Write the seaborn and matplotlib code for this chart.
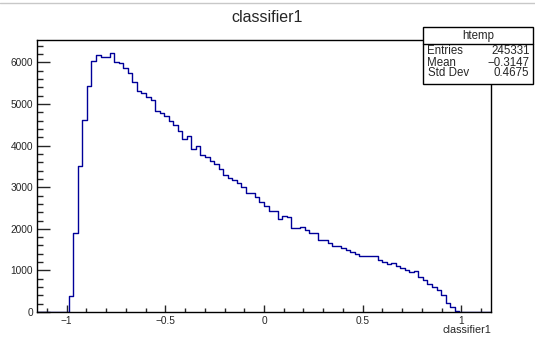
import numpy as np
import pandas as pd
import matplotlib
matplotlib.use("Agg")
import matplotlib.pyplot as plt
import seaborn as sns
from matplotlib.patches import Rectangle
from matplotlib.lines import Line2D

# ---------------- data ----------------
title = "classifier1"
x_label = "classifier1"
hist_name = "htemp"
x_range = [-1.15, 1.15]
n_bins = 100
leading_zero_bins = 7
# bin contents of the non-empty bins (bin 7 .. bin 92)
bin_counts = [
    380, 1900, 3520, 4615, 5435, 6025, 6185, 6125, 6120, 6230,
    6005, 5985, 5860, 5740, 5530, 5305, 5265, 5160, 5100, 4830,
    4775, 4720, 4600, 4500, 4340, 4155, 4220, 3925, 4000, 3785,
    3720, 3635, 3550, 3445, 3295, 3230, 3175, 3110, 2995, 2855,
    2855, 2770, 2640, 2540, 2440, 2430, 2235, 2300, 2280, 2015,
    2015, 2045, 1970, 1910, 1910, 1720, 1720, 1670, 1590, 1590,
    1545, 1500, 1450, 1400, 1345, 1338, 1338, 1338, 1262, 1205,
    1155, 1185, 1095, 1055, 1015, 950, 990, 840, 775, 680,
    595, 520, 415, 225, 110, 25,
]
stats_labels = ["Entries", "Mean", "Std Dev"]
stats_values = ["245331", "\u22120.3147", "0.4675"]
x_major_ticks = [-1, -0.5, 0, 0.5, 1]
x_tick_labels = ["\u22121", "\u22120.5", "0", "0.5", "1"]
y_major_ticks = [0, 1000, 2000, 3000, 4000, 5000, 6000]

# ---------------- build table ----------------
edges = np.linspace(x_range[0], x_range[1], n_bins + 1)
centers = 0.5 * (edges[:-1] + edges[1:])
counts = [0] * leading_zero_bins + bin_counts
counts = counts + [0] * (n_bins - len(counts))
df = pd.DataFrame({"classifier1": centers, "count": counts})

# ---------------- style ----------------
sns.set_style("ticks")
plt.rcParams["font.family"] = ["Liberation Sans", "DejaVu Sans"]
plt.rcParams["axes.linewidth"] = 1.0

W, H = 535, 338
fig = plt.figure(figsize=(W / 100, H / 100), dpi=100)
fig.patch.set_facecolor("white")
ax_l, ax_r, ax_t, ax_b = 37, 491, 40, 312
ax = fig.add_axes([ax_l / W, 1 - ax_b / H, (ax_r - ax_l) / W, (ax_b - ax_t) / H])

sns.histplot(data=df, x="classifier1", weights="count", bins=n_bins,
             binrange=tuple(x_range), element="step", fill=False,
             color="#000099", linewidth=1.0, ax=ax)

ax.set_xlim(x_range[0], x_range[1])
ax.set_ylim(0, 6540)
for s in ax.spines.values():
    s.set_visible(True)
    s.set_color("black")
    s.set_linewidth(1.0)

ax.set_xticks(x_major_ticks)
ax.set_xticklabels(x_tick_labels)
ax.set_xticks(np.round(np.arange(-1.1, 1.11, 0.1), 2), minor=True)
ax.set_yticks(y_major_ticks)
ax.set_yticks(np.arange(0, 6501, 200), minor=True)

ax.tick_params(axis="x", which="major", direction="in", length=5, width=1,
               labelsize=7.3, pad=3, top=False)
ax.tick_params(axis="x", which="minor", direction="in", length=2.8, width=1, top=False)
ax.tick_params(axis="y", which="major", direction="in", length=9, width=1,
               labelsize=7.3, pad=3, right=False)
ax.tick_params(axis="y", which="minor", direction="in", length=4.5, width=1, right=False)

ax.set_ylabel("")
ax.set_xlabel(x_label, fontsize=7.8, loc="right")
ax.xaxis.label.set_va("center")
ax.xaxis.set_label_coords(1.0, -(330 - ax_b) / (ax_b - ax_t))

# title
fig.text(0.5, 1 - 17 / H, title, ha="center", va="center", fontsize=11.5)

# stats box
bx0, bx1, by0, by1, bsep = 423, 533, 27, 84, 43.5
fig.add_artist(Rectangle((bx0 / W, 1 - by1 / H), (bx1 - bx0) / W, (by1 - by0) / H,
                         transform=fig.transFigure, facecolor="white",
                         edgecolor="black", linewidth=1.0, zorder=5))
fig.add_artist(Line2D([bx0 / W, bx1 / W], [1 - bsep / H, 1 - bsep / H],
                      transform=fig.transFigure, color="black", linewidth=1.0, zorder=6))
fig.text((bx0 + bx1) / 2 / W, 1 - 35.5 / H, hist_name, ha="center", va="center",
         fontsize=8.3, zorder=7)
row_y = [51, 62.5, 73.5]
for lab, val, yy in zip(stats_labels, stats_values, row_y):
    fig.text(427.5 / W, 1 - yy / H, lab, ha="left", va="center", fontsize=8.3, zorder=7)
    fig.text(529.5 / W, 1 - yy / H, val, ha="right", va="center", fontsize=8.3, zorder=7)

# thin grey rule at the very top of the canvas
fig.add_artist(Line2D([0, 1], [1 - 2.5 / H, 1 - 2.5 / H], transform=fig.transFigure,
                      color="#c8c8c8", linewidth=1.0))

fig.savefig("out.png", dpi=100, facecolor="white")
